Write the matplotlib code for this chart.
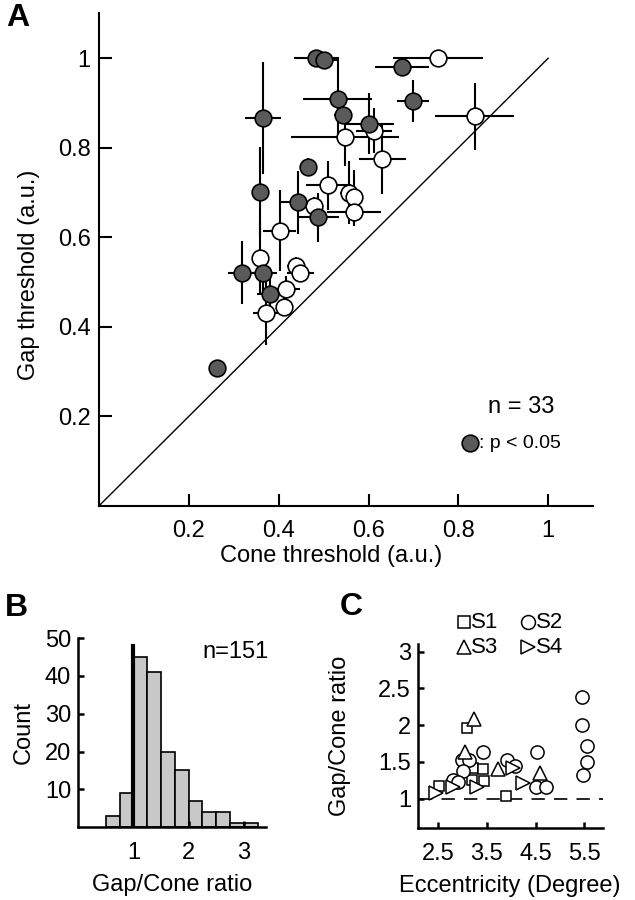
import numpy as np
import matplotlib
matplotlib.use("Agg")
import matplotlib.pyplot as plt

plt.rcParams['font.family'] = ['Liberation Sans', 'DejaVu Sans']
plt.rcParams['font.size'] = 17

# ---- panel A: cone vs gap threshold ----
sig_cone = [0.484, 0.500, 0.675, 0.699, 0.365, 0.531, 0.543, 0.602, 0.466, 0.359, 0.444, 0.487, 0.318, 0.366, 0.381, 0.262]
sig_gap = [1.000, 0.997, 0.980, 0.905, 0.866, 0.909, 0.873, 0.854, 0.757, 0.701, 0.678, 0.645, 0.521, 0.521, 0.473, 0.308]
sig_cone_err = [0.05, 0.03, 0.06, 0.035, 0.04, 0.077, 0.02, 0.054, 0.01, 0.01, 0.04, 0.047, 0.03, 0.03, 0.03, 0.005]
sig_gap_err = [0.01, 0.01, 0.01, 0.047, 0.125, 0.09, 0.02, 0.068, 0.02, 0.10, 0.07, 0.055, 0.07, 0.05, 0.05, 0.015]

ns_cone = [0.754, 0.836, 0.613, 0.547, 0.631, 0.510, 0.557, 0.567, 0.567, 0.478, 0.402, 0.359, 0.439, 0.448, 0.417, 0.412, 0.372]
ns_gap = [1.000, 0.870, 0.838, 0.824, 0.776, 0.716, 0.700, 0.690, 0.656, 0.670, 0.615, 0.554, 0.536, 0.521, 0.484, 0.445, 0.430]
ns_cone_err = [0.10, 0.087, 0.04, 0.12, 0.052, 0.05, 0.02, 0.02, 0.06, 0.02, 0.037, 0.01, 0.02, 0.03, 0.03, 0.01, 0.03]
ns_gap_err = [0.005, 0.075, 0.05, 0.065, 0.08, 0.055, 0.07, 0.06, 0.03, 0.02, 0.09, 0.08, 0.02, 0.02, 0.03, 0.02, 0.07]

# ---- panel B: histogram of gap/cone ratio ----
bin_left = [0.5, 0.75, 1.0, 1.25, 1.5, 1.75, 2.0, 2.25, 2.5, 2.75, 3.0]
bin_count = [3, 9, 45, 41, 20, 15, 7, 4, 4, 1, 1]

# ---- panel C: ratio vs eccentricity ----
s1_ecc = [3.10, 2.51, 3.22, 3.42, 3.19, 3.44, 3.90]
s1_ratio = [1.955, 1.17, 1.42, 1.40, 1.26, 1.24, 1.03]
s2_ecc = [2.98, 3.14, 3.42, 3.01, 2.81, 2.91, 3.92, 4.07, 4.53, 4.52, 4.71, 5.46, 5.45, 5.55, 5.56, 5.48]
s2_ratio = [1.53, 1.53, 1.64, 1.37, 1.25, 1.23, 1.53, 1.45, 1.64, 1.16, 1.16, 2.39, 2.00, 1.71, 1.50, 1.32]
s3_ecc = [3.24, 3.05, 3.73, 4.59]
s3_ratio = [2.09, 1.64, 1.41, 1.35]
s4_ecc = [2.45, 2.81, 3.29, 4.03, 4.25]
s4_ratio = [1.08, 1.16, 1.16, 1.42, 1.21]

fig = plt.figure(figsize=(6.35, 9), dpi=100)

def style(ax, lw, ticklen, padx, pady):
    for s in ['top', 'right']:
        ax.spines[s].set_visible(False)
    for s in ['left', 'bottom']:
        ax.spines[s].set_linewidth(lw)
    ax.tick_params(direction='in', length=ticklen, width=lw)
    ax.tick_params(axis='x', pad=padx)
    ax.tick_params(axis='y', pad=pady)

# A
axA = fig.add_axes([0.156, 0.438, 0.778, 0.547])
axA.plot([0, 1], [0, 1], color='black', lw=1.0, zorder=1)
axA.errorbar(sig_cone, sig_gap, xerr=sig_cone_err, yerr=sig_gap_err, fmt='none',
             ecolor='black', elinewidth=1.5, capsize=0, zorder=2)
axA.errorbar(ns_cone, ns_gap, xerr=ns_cone_err, yerr=ns_gap_err, fmt='none',
             ecolor='black', elinewidth=1.5, capsize=0, zorder=2)
axA.plot(ns_cone, ns_gap, 'o', ms=12, mfc='white', mec='black', mew=1.2, zorder=3, ls='none')
axA.plot(sig_cone, sig_gap, 'o', ms=12, mfc='#5a5a5a', mec='black', mew=1.2, zorder=3, ls='none')
axA.set_xlim(0, 1.1)
axA.set_ylim(0, 1.1)
axA.set_xticks([0.2, 0.4, 0.6, 0.8, 1])
axA.set_xticklabels(['0.2', '0.4', '0.6', '0.8', '1'])
axA.set_yticks([0.2, 0.4, 0.6, 0.8, 1])
axA.set_yticklabels(['0.2', '0.4', '0.6', '0.8', '1'])
style(axA, 1.5, 9, 10, 6)
axA.set_xlabel('Cone threshold (a.u.)')
axA.set_ylabel('Gap threshold (a.u.)')
axA.xaxis.set_label_coords(0.47, -0.08)
axA.yaxis.set_label_coords(-0.12, 0.47)
axA.text(0.94, 0.221, 'n = 33', ha='center', va='center', fontsize=17)
axA.plot([0.825], [0.14], 'o', ms=12, mfc='#5a5a5a', mec='black', mew=1.2)
axA.text(0.845, 0.14, ': p < 0.05', ha='left', va='center', fontsize=14)
fig.text(0.01, 0.98, 'A', fontsize=23, fontweight='bold', va='center', ha='left')

# B
axB = fig.add_axes([0.123, 0.081, 0.296, 0.21])
axB.bar(bin_left, bin_count, width=0.25, align='edge', color='#c8c8c8',
        edgecolor='black', linewidth=1.2)
axB.plot([1, 1], [0, 48], color='black', lw=3)
axB.set_xlim(0, 3.4)
axB.set_ylim(0, 50)
axB.set_xticks([1, 2, 3])
axB.set_yticks([10, 20, 30, 40, 50])
style(axB, 1.8, 4.5, 11, 5)
axB.set_xlabel('Gap/Cone ratio')
axB.set_ylabel('Count')
axB.xaxis.set_label_coords(0.5, -0.25)
axB.yaxis.set_label_coords(-0.23, 0.5)
axB.text(2.85, 46.2, 'n=151', ha='center', va='center', fontsize=17)
fig.text(0.008, 0.325, 'B', fontsize=23, fontweight='bold', va='center', ha='left')

# C
axC = fig.add_axes([0.658, 0.080, 0.291, 0.204])
axC.plot([2.1, 5.9], [1, 1], color='black', lw=1.2, dashes=(8, 5.5))
mk = dict(mfc='white', mec='black', mew=1.1, ls='none', clip_on=False)
axC.plot(s1_ecc, s1_ratio, 's', ms=7, **mk)
axC.plot(s2_ecc, s2_ratio, 'o', ms=9.5, **mk)
axC.plot(s3_ecc, s3_ratio, '^', ms=10, **mk)
axC.plot(s4_ecc, s4_ratio, '>', ms=10, **mk)
axC.set_xlim(2.08, 5.88)
axC.set_ylim(0.6, 3.1)
axC.set_xticks([2.5, 3.5, 4.5, 5.5])
axC.set_yticks([1, 1.5, 2, 2.5, 3])
axC.set_yticklabels(['1', '1.5', '2', '2.5', '3'])
style(axC, 1.8, 4.5, 11, 5)
axC.set_xlabel('Eccentricity (Degree)')
axC.set_ylabel('Gap/Cone ratio')
axC.xaxis.set_label_coords(0.5, -0.255)
axC.yaxis.set_label_coords(-0.36, 0.5)
leg = [('s', 0.25, 1.121, 'S1', 8.5), ('o', 0.598, 1.121, 'S2', 10),
       ('^', 0.25, 0.985, 'S3', 10.5), ('>', 0.598, 0.985, 'S4', 10.5)]
for m, lx, ly, lab, sz in leg:
    axC.plot([lx], [ly], m, ms=sz, transform=axC.transAxes, **mk)
    axC.text(lx + 0.04, ly, lab, transform=axC.transAxes, ha='left', va='center', fontsize=16)
fig.text(0.535, 0.326, 'C', fontsize=23, fontweight='bold', va='center', ha='left')

fig.savefig('out.png', dpi=100)
